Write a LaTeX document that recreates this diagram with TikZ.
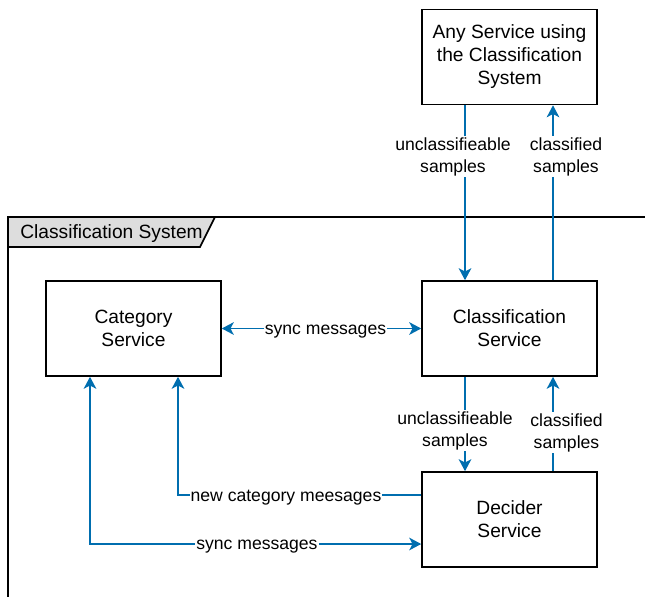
\documentclass[tikz,border=0pt]{standalone}
\usepackage{fontspec}
\setmainfont{Liberation Sans}
\usetikzlibrary{calc}
\usetikzlibrary{positioning}
\usetikzlibrary{arrows.meta}

\definecolor{flowblue}{HTML}{006EAF}

\begin{document}
\begin{tikzpicture}[x=0.75pt,y=0.75pt,yscale=-1,xscale=1,
    >={Stealth[length=9pt,width=9.5pt,inset=2.5pt]},
    svcbox/.style={draw, line width=1.2pt, minimum width=131.25pt, minimum height=71.25pt, align=center, inner sep=0.75pt, font=\fontsize{14.4}{17.25}\selectfont},
    flow/.style={draw=flowblue, line width=1.2pt},
    flowlbl/.style={fill=white, inner sep=0.75pt, align=center, yshift=-2pt, font=\fontsize{13.2}{16.5}\selectfont}]
            \useasboundingbox (0,0) rectangle (645,597);

            % Frame of the classification system
            \draw  [line width=1.2pt]  (645,217) -- (8,217) -- (8,597) ;
            \draw  [line width=1.2pt, fill={rgb, 255:red, 221; green, 221; blue, 221 }]  (8,217) -- (215,217) -- (200,247) -- (8,247) -- cycle ;
            \node [anchor=west, inner sep=0pt, font=\fontsize{14.4}{18}\selectfont] (syslbl) at (20,233.5) {Classification System};

            % Services
            \node [svcbox] (anysvc) at (509.5,57) {Any Service using\\the Classification\\System};
            \node [svcbox] (catsvc) at (133.5,328.5) {Category\\Service};
            \node [svcbox] (clssvc) at (509.5,328.5) {Classification\\Service};
            \node [svcbox] (decsvc) at (509.5,519.5) {Decider\\Service};

            % Any Service <-> Classification Service
            \draw [flow, ->] ($(anysvc.south)+(-44.5,0)$) -- ($(clssvc.north)+(-44.5,0)$) ;
            \draw [flow, ->] ($(clssvc.north)+(43.5,0)$) -- ($(anysvc.south)+(43.5,0)$) ;
            \node [flowlbl] (unclup) at (453,154) {unclassifieable\\samples};
            \node [flowlbl] (clsup) at (566,154) {classified\\samples};

            % Classification Service <-> Decider Service
            \draw [flow, ->] ($(clssvc.south)+(-44.5,0)$) -- ($(decsvc.north)+(-44.5,0)$) ;
            \draw [flow, ->] ($(decsvc.north)+(43.5,0)$) -- ($(clssvc.south)+(43.5,0)$) ;
            \node [flowlbl] (uncldown) at (455,428) {unclassifieable\\samples};
            \node [flowlbl] (clsdown) at (566.5,430) {classified\\samples};

            % Category Service links
            \draw [flow, <->] (catsvc) -- (clssvc) node [flowlbl, pos=0.52] (synctop) {sync messages};
            \draw [flow, ->] ($(decsvc.west)+(0,-24.5)$) -| ($(catsvc.south)+(44.5,0)$) node [flowlbl, pos=0.278] (newcat) {new category meesages};
            \draw [flow, <->] ($(catsvc.south)+(-43.5,0)$) |- ($(decsvc.west)+(0,24.5)$) node [flowlbl, pos=0.752] (syncbot) {sync messages};

        \end{tikzpicture}
\end{document}
